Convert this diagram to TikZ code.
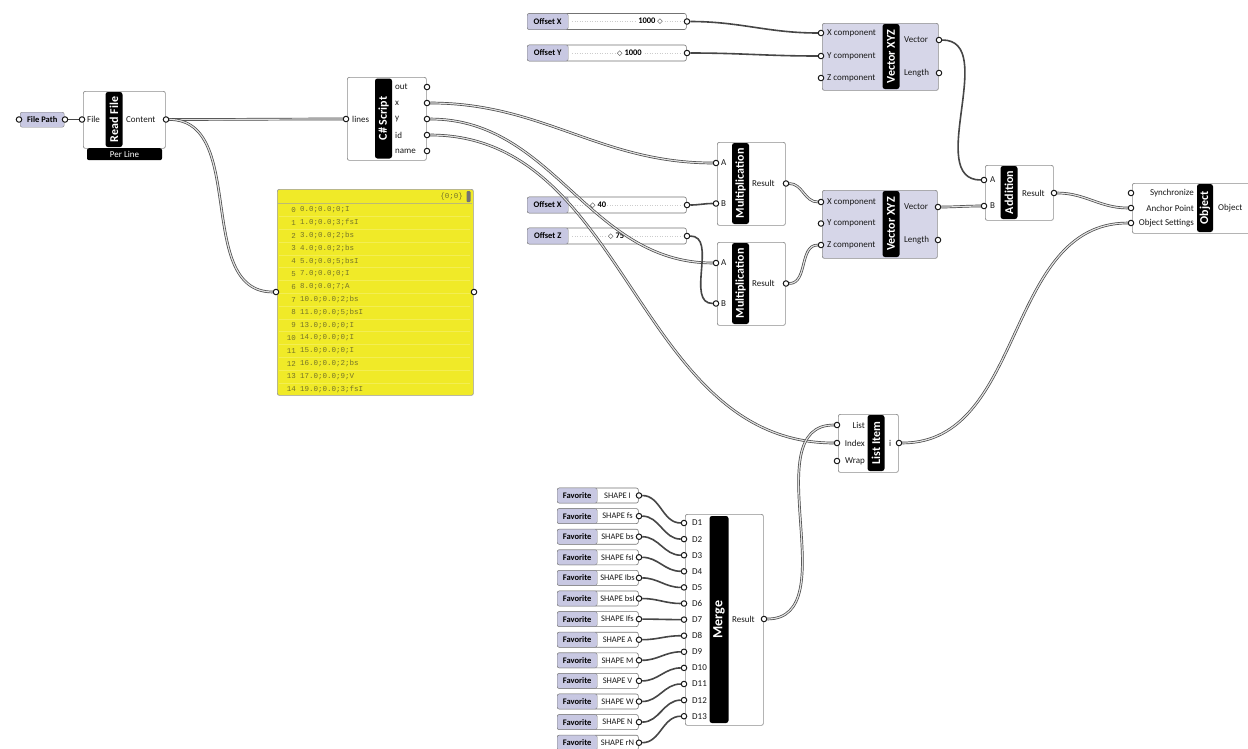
\documentclass[tikz,border=0pt]{standalone}
\usepackage{fontspec}
\setmainfont{Carlito}
\newfontfamily\panelfont{Liberation Mono}
\newfontfamily\symfont{DejaVu Sans}
\usetikzlibrary{positioning}
\pgfdeclarelayer{front}
\pgfsetlayers{main,front}

\definecolor{ghlilac}{RGB}{200,200,226}
\definecolor{ghvector}{RGB}{214,214,232}
\definecolor{ghyellow}{RGB}{240,234,40}
\definecolor{ghpaneltext}{RGB}{118,116,40}
\definecolor{ghwire}{RGB}{70,70,70}

\tikzset{
  comp/.style={draw=black!45, line width=0.7pt, fill=white, rounded corners=2pt,
    inner sep=0pt, anchor=north west},
  vcomp/.style={comp, fill=ghvector},
  titlebar/.style={fill=black, rounded corners=2.5pt, rotate=90, inner sep=0pt,
    minimum height=17pt, text=white, font=\fontsize{12}{13}\selectfont\bfseries},
  plabel/.style={inner sep=0pt, font=\fontsize{9}{10}\selectfont, text=black!90},
  nub/.style={circle, draw=black!90, fill=white, line width=1pt, inner sep=0pt,
    minimum size=5.5pt},
  lilac/.style={draw=black!50, fill=ghlilac, rounded corners=2pt, inner sep=0pt,
    font=\fontsize{8.5}{9}\selectfont\bfseries},
  slider/.style={comp, line width=0.6pt, draw=black!55},
  track/.style={black!20, dotted, line width=0.5pt},
  value/.style={fill=white, inner sep=1pt, font=\fontsize{8.5}{9}\selectfont\bfseries},
  wire/.style={draw=ghwire, line width=1.6pt},
  dwire/.style={draw=ghwire, line width=0.7pt, double=black!12, double distance=1.2pt},
  paneltext/.style={inner sep=0pt, font=\panelfont\fontsize{7.5}{9}\selectfont, text=ghpaneltext}
}

\begin{document}
\begin{tikzpicture}[x=1pt,y=-1pt]
\useasboundingbox[fill=white] (0,0) rectangle (1248,748);

% File Path + Read File
\node[lilac, minimum width=44pt, minimum height=15pt, anchor=north west] (filepath) at (20,112) {File Path};
\node[comp, minimum width=82pt, minimum height=57pt] (readfile) at (83,91) {};
\node[fill=black, rounded corners=2pt, minimum width=75pt, minimum height=12pt, inner sep=0pt,
  anchor=north, text=white, font=\fontsize{9}{10}\selectfont] (perline) at (124.5,148) {Per Line};
\node[titlebar, minimum width=55pt] at (114,119.5) {Read File};
\node[plabel, anchor=west] at (87,119.5) {File};
\node[plabel, anchor=west] at (126,119.5) {Content};
\begin{pgfonlayer}{front}
  \node[nub] (fp-in) at (19,119.5) {};
  \node[nub] (fp-out) at (65,119.5) {};
  \node[nub] (rf-file) at (82,119.5) {};
  \node[nub] (rf-content) at (166,119.5) {};
\end{pgfonlayer}

% C# Script
\node[comp, minimum width=79pt, minimum height=83pt] (csharp) at (347,77) {};
\node[titlebar, minimum width=80pt] at (383.5,118.5) {C\# Script};
\node[plabel, anchor=west] at (352,119) {lines};
\foreach \lbl/\yy in {out/87, x/103, y/119, id/135, name/151}
  \node[plabel, anchor=west] at (395,\yy) {\lbl};
\begin{pgfonlayer}{front}
  \node[nub] (cs-lines) at (346,119) {};
  \node[nub] (cs-out) at (427,87) {};
  \node[nub] (cs-x) at (427,103) {};
  \node[nub] (cs-y) at (427,119) {};
  \node[nub] (cs-id) at (427,135) {};
  \node[nub] (cs-name) at (427,151) {};
\end{pgfonlayer}

% Panel
\node[comp, fill=ghyellow, draw=black!40, minimum width=196pt, minimum height=206pt] (panel) at (277,189) {};
\draw[ghyellow!60!black!60, line width=0.4pt] (278,203.5) -- (472,203.5);
\foreach \i in {0,...,13}
  \draw[ghyellow!80!white, line width=0.3pt] (279,216.4+12.8*\i) -- (470,216.4+12.8*\i);
\node[paneltext, anchor=east] at (463,197) {\{0;0\}};
\node[fill=black!55, rounded corners=1pt, minimum width=4pt, minimum height=11pt, inner sep=0pt] (handle) at (468.5,196.5) {};
\foreach \val [count=\i from 0] in {0.0;0.0;0;I, 1.0;0.0;3;fsI, 3.0;0.0;2;bs, 4.0;0.0;2;bs,
    5.0;0.0;5;bsI, 7.0;0.0;0;I, 8.0;0.0;7;A, 10.0;0.0;2;bs, 11.0;0.0;5;bsI, 13.0;0.0;0;I,
    14.0;0.0;0;I, 15.0;0.0;0;I, 16.0;0.0;2;bs, 17.0;0.0;9;V, 19.0;0.0;3;fsI} {
  \node[paneltext, anchor=east] at (296,210+12.8*\i) {\i};
  \node[paneltext, anchor=west] at (300,210+12.8*\i) {\val};
}
\begin{pgfonlayer}{front}
  \node[nub] (panel-in) at (276,292) {};
  \node[nub] (panel-out) at (474,292) {};
\end{pgfonlayer}

% sliders
\foreach \name/\lbl/\yy in {sx1/Offset X/21.5, sy/Offset Y/53, sx2/Offset X/205, sz/Offset Z/236} {
  \node[slider, minimum width=159pt, minimum height=16pt, anchor=west] (\name) at (527,\yy) {};
  \node[lilac, minimum width=41pt, minimum height=16pt, anchor=west] at (527,\yy) {\lbl};
  \draw[track] (572,\yy) -- (682,\yy);
  \begin{pgfonlayer}{front}
    \node[nub] (\name-out) at (687,\yy) {};
  \end{pgfonlayer}
}
\node[value, anchor=east] at (664,21.5) {1000 {\symfont\fontsize{7}{8}\selectfont ◇}};
\node[value, anchor=west] at (616,53) {{\symfont\fontsize{7}{8}\selectfont ◇} 1000};
\node[value, anchor=west] at (589,205) {{\symfont\fontsize{7}{8}\selectfont ◇} 40};
\node[value, anchor=west] at (607,236) {{\symfont\fontsize{7}{8}\selectfont ◇} 75};

% Vector XYZ (top)
\node[vcomp, minimum width=116pt, minimum height=67pt] (vec1) at (822,23) {};
\node[titlebar, minimum width=65pt] at (891,56.5) {Vector XYZ};
\node[plabel, anchor=west] at (827,33) {X component};
\node[plabel, anchor=west] at (827,56) {Y component};
\node[plabel, anchor=west] at (827,78) {Z component};
\node[plabel, anchor=west] at (904,40) {Vector};
\node[plabel, anchor=west] at (904,73) {Length};
\begin{pgfonlayer}{front}
  \node[nub] (vec1-x) at (821,33) {};
  \node[nub] (vec1-y) at (821,56) {};
  \node[nub] (vec1-z) at (821,78) {};
  \node[nub] (vec1-vec) at (939,40) {};
  \node[nub] (vec1-len) at (939,73) {};
\end{pgfonlayer}

% Multiplication 1 and 2
\foreach \m/\top in {mult1/142, mult2/242} {
  \node[comp, minimum width=68pt, minimum height=83pt] (\m) at (717,\top) {};
  \node[titlebar, minimum width=81pt] at (740.5,\top+41.5) {Multiplication};
  \node[plabel, anchor=west] at (721,\top+21) {A};
  \node[plabel, anchor=west] at (721,\top+61.5) {B};
  \node[plabel, anchor=west] at (752,\top+41.5) {Result};
  \begin{pgfonlayer}{front}
    \node[nub] (\m-a) at (716,\top+21) {};
    \node[nub] (\m-b) at (716,\top+61.5) {};
    \node[nub] (\m-res) at (786,\top+41.5) {};
  \end{pgfonlayer}
}

% Vector XYZ (bottom)
\node[vcomp, minimum width=115pt, minimum height=68pt] (vec2) at (822,190) {};
\node[titlebar, minimum width=66pt] at (891,224) {Vector XYZ};
\node[plabel, anchor=west] at (827,202) {X component};
\node[plabel, anchor=west] at (827,223.5) {Y component};
\node[plabel, anchor=west] at (827,245) {Z component};
\node[plabel, anchor=west] at (904,207) {Vector};
\node[plabel, anchor=west] at (904,240) {Length};
\begin{pgfonlayer}{front}
  \node[nub] (vec2-x) at (821,202) {};
  \node[nub] (vec2-y) at (821,223.5) {};
  \node[nub] (vec2-z) at (821,245) {};
  \node[nub] (vec2-vec) at (938,207) {};
  \node[nub] (vec2-len) at (938,240) {};
\end{pgfonlayer}

% Addition
\node[comp, minimum width=68pt, minimum height=55pt] (addition) at (985,165) {};
\node[titlebar, minimum width=53pt] at (1009,192.5) {Addition};
\node[plabel, anchor=west] at (990,180) {A};
\node[plabel, anchor=west] at (990,206) {B};
\node[plabel, anchor=west] at (1022,193) {Result};
\begin{pgfonlayer}{front}
  \node[nub] (add-a) at (984,180) {};
  \node[nub] (add-b) at (984,206) {};
  \node[nub] (add-res) at (1054,193) {};
\end{pgfonlayer}

% Object
\node[comp, minimum width=124pt, minimum height=50pt] (object) at (1132,183) {};
\node[titlebar, minimum width=48pt, minimum height=16pt] at (1205,208) {Object};
\node[plabel, anchor=east] at (1194,193) {Synchronize};
\node[plabel, anchor=east] at (1194,208) {Anchor Point};
\node[plabel, anchor=east] at (1194,223) {Object Settings};
\node[plabel, anchor=west] at (1218,208) {Object};
\begin{pgfonlayer}{front}
  \node[nub] (obj-sync) at (1131,193) {};
  \node[nub] (obj-anchor) at (1131,208) {};
  \node[nub] (obj-settings) at (1131,223) {};
\end{pgfonlayer}

% List Item
\node[comp, minimum width=60pt, minimum height=58pt] (listitem) at (838,414) {};
\node[titlebar, minimum width=56pt] at (876,443) {List Item};
\node[plabel, anchor=east] at (865,425) {List};
\node[plabel, anchor=east] at (865,443) {Index};
\node[plabel, anchor=east] at (865,461) {Wrap};
\node[plabel, anchor=west] at (889,443) {i};
\begin{pgfonlayer}{front}
  \node[nub] (li-list) at (837,425) {};
  \node[nub] (li-index) at (837,443) {};
  \node[nub] (li-wrap) at (837,461) {};
  \node[nub] (li-out) at (899,443) {};
\end{pgfonlayer}

% Merge
\node[comp, minimum width=78pt, minimum height=211pt] (merge) at (685,514) {};
\node[titlebar, minimum width=207pt, minimum height=19pt, font=\fontsize{14}{15}\selectfont\bfseries] at (719,619.5) {Merge};
\node[plabel, anchor=west] at (732,619) {Result};
\foreach \i in {1,...,13} {
  \pgfmathsetmacro{\yy}{523+16.1*(\i-1)}
  \node[plabel, anchor=west] at (692,\yy) {D\i};
  \begin{pgfonlayer}{front}
    \node[nub] (merge-d\i) at (684,\yy) {};
  \end{pgfonlayer}
}
\begin{pgfonlayer}{front}
  \node[nub] (merge-res) at (764,619) {};
\end{pgfonlayer}

% Favorites
\foreach \shp [count=\i] in {I,fs,bs,fsI,Ibs,bsI,Ifs,A,M,V,W,N,rN} {
  \pgfmathsetmacro{\yy}{495.5+20.6*(\i-1)}
  \node[slider, minimum width=81pt, minimum height=15pt, anchor=west] (fav\i) at (557,\yy) {};
  \node[lilac, minimum width=40pt, minimum height=15pt, anchor=west] at (557,\yy) {Favorite};
  \node[plabel, font=\fontsize{8.5}{9}\selectfont] at (617.5,\yy) {SHAPE \shp};
  \begin{pgfonlayer}{front}
    \node[nub] (fav\i-out) at (639,\yy) {};
  \end{pgfonlayer}
}

% wires
\draw[wire] (fp-out) to[out=0,in=180] (rf-file);
\draw[dwire] (rf-content) to[out=0,in=180] (cs-lines);
\draw[dwire] (rf-content) to[out=0,in=180] (panel-in);
\draw[dwire] (cs-x) to[out=0,in=180] (mult1-a);
\draw[dwire] (cs-y) to[out=0,in=180] (mult2-a);
\draw[dwire] (cs-id) to[out=0,in=180] (li-index);
\draw[wire] (sx1-out) to[out=0,in=180] (vec1-x);
\draw[wire] (sy-out) to[out=0,in=180] (vec1-y);
\draw[wire] (sx2-out) to[out=0,in=180] (mult1-b);
\draw[wire] (sz-out) to[out=0,in=180] (mult2-b);
\draw[dwire] (mult1-res) to[out=0,in=180] (vec2-x);
\draw[dwire] (mult2-res) to[out=0,in=180] (vec2-z);
\draw[wire] (vec1-vec) to[out=0,in=180] (add-a);
\draw[dwire] (vec2-vec) to[out=0,in=180] (add-b);
\draw[dwire] (add-res) to[out=0,in=180] (obj-anchor);
\draw[dwire] (li-out) to[out=0,in=180] (obj-settings);
\draw[dwire] (merge-res) to[out=0,in=180] (li-list);
\foreach \i in {1,...,13}
  \draw[wire] (fav\i-out) to[out=0,in=180] (merge-d\i);
\end{tikzpicture}
\end{document}
